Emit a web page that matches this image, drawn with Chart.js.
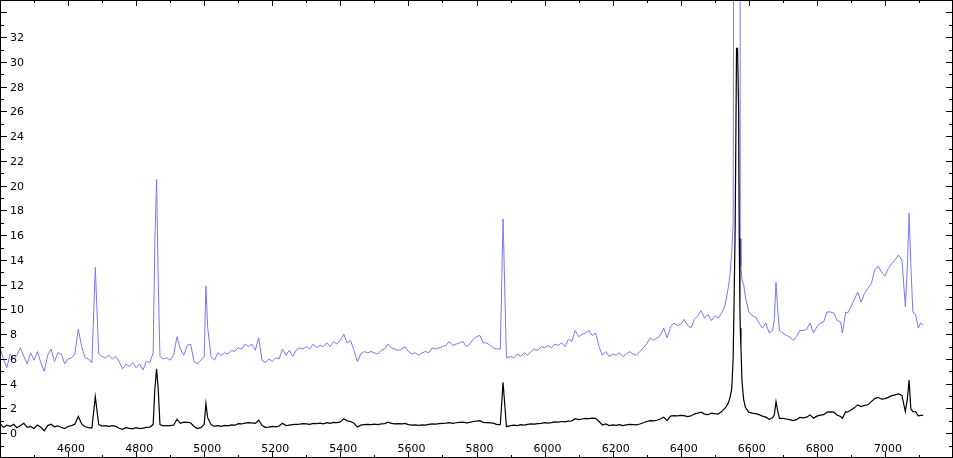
<!DOCTYPE html>
<html>
<head>
<meta charset="utf-8">
<script src="https://cdn.jsdelivr.net/npm/chart.js@4.4.0/dist/chart.umd.min.js"></script>
<style>
  html, body { margin: 0; padding: 0; background: #fff; }
  #wrap { width: 953px; height: 458px; position: relative; }
</style>
</head>
<body>
<div id="wrap"><canvas id="spec"></canvas></div>
<script>
// 波長 (Å)
const wavelength = [
  4400,4410,4420,4430,4440,4450,4460,4470,4480,4490,
  4500,4510,4520,4530,4540,4550,4560,4570,4580,4590,
  4600,4610,4620,4630,4640,4650,4660,4670,4680,4690,
  4700,4710,4720,4730,4740,4750,4760,4770,4780,4790,
  4800,4810,4820,4830,4840,4850,4855,4860,4865,4870,4880,4890,
  4900,4910,4920,4930,4940,4950,4960,4970,4980,4990,
  5000,5005,5010,5020,5030,5040,5050,5060,5070,5080,5090,
  5100,5110,5120,5130,5140,5150,5160,5170,5180,5190,
  5200,5210,5220,5230,5240,5250,5260,5270,5280,5290,
  5300,5310,5320,5330,5340,5350,5360,5370,5380,5390,
  5400,5410,5420,5430,5440,5450,5460,5470,5480,5490,
  5500,5510,5520,5530,5540,5550,5560,5570,5580,5590,
  5600,5610,5620,5630,5640,5650,5660,5670,5680,5690,
  5700,5710,5720,5730,5740,5750,5760,5770,5780,5790,
  5800,5810,5820,5830,5840,5850,5860,5870,5878,5888,
  5900,5910,5920,5930,5940,5950,5960,5970,5980,5990,
  6000,6010,6020,6030,6040,6050,6060,6070,6080,6090,
  6100,6110,6120,6130,6140,6150,6160,6170,6180,6190,
  6200,6210,6220,6230,6240,6250,6260,6270,6280,6290,
  6300,6310,6320,6330,6340,6350,6360,6370,6380,6390,
  6400,6410,6420,6430,6440,6450,6460,6470,6480,6490,
  6500,6510,6520,6530,6540,6545,6550,6554,6557,6560,6564,6567,6570,6572,6574,6575,6577,6580,6585,6590,
  6600,6610,6620,6630,6640,6650,6660,6670,6675,6680,6685,6690,
  6700,6710,6720,6730,6740,6750,6760,6770,6780,6790,
  6800,6810,6820,6830,6840,6850,6860,6870,6875,6885,6890,
  6900,6910,6920,6930,6940,6950,6960,6970,6980,6990,
  7000,7010,7020,7030,7040,7050,7060,7066,7071,7076,7082,7090,7098,7105,7112
];

// 青: 未補正スペクトル
const blueFlux = [
  6.9,6.0,5.3,6.4,6.0,6.3,6.9,6.2,5.6,6.5,
  5.9,6.6,5.7,5.0,6.3,6.8,5.8,6.5,6.4,5.6,
  6.0,6.1,6.4,8.4,7.0,6.1,6.0,5.7,13.4,6.4,
  6.2,6.1,6.3,6.0,6.2,5.8,5.2,5.6,5.4,5.7,
  5.3,5.6,5.1,5.8,5.7,6.5,15.5,20.5,12.0,6.2,6.0,6.1,
  5.9,6.3,7.8,6.8,6.3,7.1,7.2,5.8,5.6,5.9,
  6.2,11.9,8.6,6.2,5.9,6.5,6.3,6.5,6.4,6.7,6.6,
  6.9,6.8,7.2,7.0,7.2,6.7,7.7,5.9,5.7,6.0,
  5.8,6.1,6.0,6.8,6.3,6.7,6.2,6.7,6.9,6.8,
  7.0,6.8,7.2,6.9,7.1,7.0,7.3,7.0,7.4,7.2,
  7.5,8.0,7.3,7.5,6.7,5.8,6.4,6.6,6.5,6.6,
  6.5,6.4,6.7,6.8,7.2,6.9,6.8,6.7,6.8,7.0,
  6.6,6.4,6.5,6.3,6.5,6.6,6.5,6.9,6.8,6.9,
  7.0,7.1,7.4,7.1,7.2,7.3,7.4,7.0,7.2,7.6,
  7.8,7.9,7.3,7.3,7.1,6.9,6.8,6.8,17.3,6.1,
  6.2,6.1,6.4,6.2,6.5,6.3,6.6,6.8,6.7,7.0,
  6.9,7.1,6.9,7.2,7.1,7.3,7.0,7.6,7.4,8.3,
  7.8,8.0,8.1,8.3,7.9,8.1,7.0,6.3,6.6,6.2,
  6.4,6.3,6.5,6.2,6.4,6.6,6.4,6.3,6.6,6.9,
  7.2,7.7,7.5,7.7,7.9,8.5,7.7,8.6,8.9,8.7,
  8.8,9.2,8.7,8.5,9.2,9.5,9.9,9.3,9.6,9.1,
  9.5,9.3,9.7,10.3,11.8,12.9,14.6,17.0,60,100,120,120,100,80,60,15.7,13.5,12.4,12.0,11.0,
  9.8,9.5,9.4,8.9,8.5,8.9,8.1,8.3,9.2,12.2,10.0,8.3,
  8.1,7.9,7.8,7.5,7.8,8.3,8.3,8.4,8.9,8.1,
  8.6,8.9,9.0,9.8,9.8,9.7,9.1,9.0,8.1,9.8,9.7,
  10.2,10.8,11.4,10.6,11.3,11.7,12.1,13.2,13.5,13.0,
  12.7,13.3,13.7,14.0,14.4,14.0,10.2,13.5,17.8,13.7,9.8,9.6,8.5,8.9,8.75
];

// 黒: 補正後スペクトル
const blackFlux = [
  0.80,0.46,0.65,0.55,0.73,0.45,0.62,0.80,0.47,0.55,
  0.38,0.66,0.48,0.20,0.62,0.73,0.52,0.60,0.46,0.38,
  0.55,0.62,0.73,1.35,0.75,0.52,0.45,0.42,2.95,0.70,
  0.58,0.62,0.55,0.62,0.55,0.40,0.32,0.45,0.40,0.36,
  0.45,0.38,0.42,0.48,0.50,0.70,3.6,5.2,3.5,0.70,0.60,0.62,
  0.62,0.65,1.13,0.80,0.90,0.88,0.85,0.55,0.38,0.45,
  0.72,2.4,1.26,0.70,0.55,0.62,0.55,0.63,0.60,0.68,0.65,
  0.78,0.75,0.82,0.86,0.84,0.80,1.05,0.62,0.48,0.50,
  0.55,0.52,0.58,0.80,0.62,0.66,0.70,0.72,0.73,0.78,
  0.75,0.72,0.80,0.78,0.82,0.76,0.85,0.80,0.88,0.86,
  0.92,1.18,1.00,0.95,0.80,0.50,0.65,0.70,0.72,0.70,
  0.73,0.70,0.75,0.78,0.90,0.80,0.76,0.78,0.75,0.80,
  0.70,0.66,0.68,0.64,0.68,0.66,0.72,0.75,0.74,0.78,
  0.80,0.82,0.86,0.80,0.85,0.88,0.90,0.84,0.88,0.95,
  0.98,1.02,0.88,0.86,0.84,0.82,0.70,0.70,4.12,0.53,
  0.62,0.66,0.62,0.70,0.66,0.72,0.75,0.73,0.78,0.80,
  0.85,0.82,0.86,0.92,0.90,0.95,0.92,0.98,1.00,1.18,
  1.10,1.15,1.20,1.18,1.22,1.20,0.95,0.67,0.75,0.62,
  0.68,0.64,0.70,0.62,0.68,0.72,0.70,0.68,0.75,0.85,
  0.95,1.02,1.00,1.05,1.15,1.29,1.02,1.38,1.43,1.40,
  1.45,1.42,1.35,1.40,1.55,1.62,1.70,1.55,1.50,1.62,
  1.58,1.55,1.75,2.0,2.45,2.9,3.6,6.0,11.0,16.7,31.1,31.1,26.4,15.75,10.0,8.5,6.9,4.2,2.7,2.1,
  1.70,1.62,1.58,1.50,1.38,1.30,1.13,1.25,1.48,2.55,1.80,1.20,
  1.20,1.15,1.10,1.02,1.10,1.28,1.25,1.30,1.48,1.22,
  1.38,1.46,1.50,1.70,1.72,1.70,1.45,1.35,1.20,1.75,1.70,
  1.88,2.05,2.29,2.15,2.25,2.30,2.55,2.80,2.90,2.75,
  2.80,2.90,3.04,3.10,3.18,3.05,1.75,2.80,4.30,2.00,1.75,1.75,1.40,1.45,1.45
];

// 目盛りラベル
const xLabels = [4600, 4800, 5000, 5200, 5400, 5600, 5800, 6000, 6200, 6400, 6600, 6800, 7000];
const yLabels = [0, 2, 4, 6, 8, 10, 12, 14, 16, 18, 20, 22, 24, 26, 28, 30, 32];

const X_MIN = 4400, X_MAX = 7200, Y_MIN = -2, Y_MAX = 35;

// 枠と内向きの目盛りを自前で描く
const axisFrame = {
  id: 'axisFrame',
  afterDraw(chart) {
    const { ctx, chartArea: a, scales: { x, y } } = chart;
    ctx.save();
    ctx.strokeStyle = '#000';
    ctx.lineWidth = 1;
    ctx.strokeRect(a.left + 0.5, a.top + 0.5, a.right - a.left - 1, a.bottom - a.top - 1);

    ctx.beginPath();
    for (let v = X_MIN; v <= X_MAX; v += 100) {
      const len = v % 200 === 0 ? 6 : 3;
      const px = Math.round(x.getPixelForValue(v)) + 0.5;
      ctx.moveTo(px, a.bottom); ctx.lineTo(px, a.bottom - len);
      ctx.moveTo(px, a.top); ctx.lineTo(px, a.top + len);
    }
    for (let v = Y_MIN; v <= 34; v++) {
      const len = v % 2 === 0 ? 7 : 4;
      const py = Math.round(y.getPixelForValue(v)) + 0.5;
      ctx.moveTo(a.left, py); ctx.lineTo(a.left + len, py);
      ctx.moveTo(a.right, py); ctx.lineTo(a.right - len, py);
    }
    ctx.stroke();

    ctx.fillStyle = '#000';
    ctx.font = '11px "DejaVu Sans"';
    ctx.textAlign = 'left';
    ctx.textBaseline = 'middle';
    yLabels.forEach(v => ctx.fillText(String(v), a.left + 10, Math.round(y.getPixelForValue(v)) + 1));
    ctx.textAlign = 'center';
    ctx.textBaseline = 'alphabetic';
    xLabels.forEach(v => ctx.fillText(String(v), x.getPixelForValue(v) + 3, a.bottom - 6));
    ctx.restore();
  }
};

const toPoints = arr => wavelength.map((w, i) => ({ x: w, y: arr[i] }));

new Chart(document.getElementById('spec'), {
  type: 'line',
  data: {
    datasets: [
      { label: 'black', data: toPoints(blackFlux), borderColor: '#000', borderWidth: 1.2, pointRadius: 0, tension: 0 },
      { label: 'blue', data: toPoints(blueFlux), borderColor: '#7878ff', borderWidth: 1, pointRadius: 0, tension: 0 }
    ]
  },
  options: {
    responsive: true,
    maintainAspectRatio: false,
    animation: false,
    events: [],
    layout: { padding: 0 },
    plugins: { legend: { display: false }, tooltip: { enabled: false } },
    scales: {
      x: { type: 'linear', min: X_MIN, max: X_MAX, display: false },
      y: { type: 'linear', min: Y_MIN, max: Y_MAX, display: false }
    }
  },
  plugins: [axisFrame]
});
</script>
</body>
</html>
